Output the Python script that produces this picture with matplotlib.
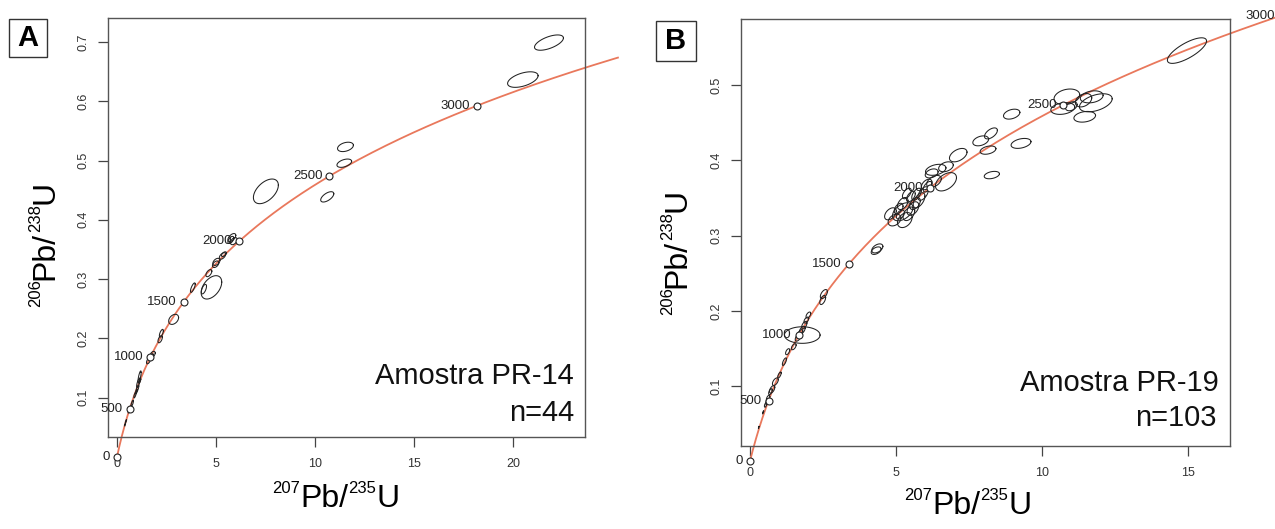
import numpy as np
import matplotlib
matplotlib.use("Agg")
import matplotlib.pyplot as plt
from matplotlib.patches import Rectangle

plt.rcParams['font.family'] = ['Liberation Sans', 'DejaVu Sans']

# decay constants (1/Ma) for the concordia
L235 = 9.8485e-4
L238 = 1.55125e-4

# -----------------------------------
# sample PR-14: x, half-width x, y, half-width y, rho
# -----------------------------------
a_x = [21.82, 20.50, 11.54, 11.48, 10.62, 7.52, 4.77, 5.80, 5.90, 5.33, 5.02, 4.98,
       4.64, 4.39, 3.83, 2.86, 2.24, 2.18, 1.80, 1.59, 1.14, 1.08, 1.03, 0.91, 0.77,
       0.68, 0.62, 0.45, 0.40, 1.15, 0.98, 5.40, 1.75, 5.75]
a_ex = [0.73, 0.77, 0.40, 0.37, 0.33, 0.63, 0.52, 0.20, 0.17, 0.16, 0.18, 0.16,
        0.15, 0.13, 0.12, 0.25, 0.10, 0.11, 0.13, 0.10, 0.08, 0.09, 0.07, 0.06, 0.06,
        0.08, 0.06, 0.03, 0.02, 0.05, 0.05, 0.12, 0.09, 0.15]
a_y = [0.699, 0.6366, 0.523, 0.4955, 0.4387, 0.448, 0.286, 0.370, 0.364, 0.339, 0.329, 0.325,
       0.310, 0.283, 0.2855, 0.232, 0.2086, 0.1985, 0.173, 0.162, 0.135, 0.125, 0.115, 0.1045, 0.0905,
       0.082, 0.078, 0.060, 0.054, 0.128, 0.110, 0.342, 0.170, 0.366]
a_ey = [0.0129, 0.0131, 0.0079, 0.0070, 0.0087, 0.0208, 0.0197, 0.0068, 0.0060, 0.0055, 0.0060, 0.0055,
        0.0060, 0.0080, 0.0080, 0.0085, 0.0065, 0.0060, 0.0050, 0.0050, 0.0100, 0.0080, 0.0060, 0.0050, 0.0050,
        0.0045, 0.0040, 0.0025, 0.0020, 0.0040, 0.0040, 0.0040, 0.0040, 0.0060]
a_rho = [0.6, 0.5, 0.35, 0.45, 0.6, 0.5, 0.45, 0.55, 0.45, 0.55, 0.45, 0.45,
         0.55, 0.6, 0.75, 0.35, 0.65, 0.55, 0.45, 0.55, 0.75, 0.75, 0.75, 0.75, 0.75,
         0.55, 0.55, 0.8, 0.8, 0.75, 0.75, 0.55, 0.55, 0.55]

# -----------------------------------
# sample PR-19
# -----------------------------------
b_x = [14.96, 10.85, 10.71, 11.00, 11.42, 11.84, 11.70, 11.46, 8.96, 8.25, 7.90, 8.15,
       9.28, 8.28, 7.13, 6.71, 6.71, 6.36, 6.22, 6.05, 6.30,
       5.23, 4.95, 5.30, 5.58, 5.79, 5.93, 6.08, 5.51, 5.37, 5.09, 4.81, 5.23, 5.65, 5.44, 5.15, 5.70,
       4.36, 4.32, 2.53, 2.49, 1.79, 2.00, 1.93, 1.86, 1.79, 1.72, 1.65, 1.50, 1.29, 1.18,
       1.01, 0.87, 0.76, 0.70, 0.62, 0.59, 0.535, 0.45, 0.30]
b_ex = [0.67, 0.44, 0.41, 0.20, 0.28, 0.56, 0.39, 0.37, 0.28, 0.22, 0.27, 0.27,
        0.34, 0.26, 0.30, 0.36, 0.25, 0.35, 0.22, 0.18, 0.25,
        0.35, 0.22, 0.25, 0.20, 0.20, 0.18, 0.15, 0.15, 0.15, 0.15, 0.20, 0.18, 0.18, 0.20, 0.14, 0.16,
        0.19, 0.17, 0.12, 0.10, 0.61, 0.08, 0.08, 0.09, 0.10, 0.09, 0.10, 0.08, 0.07, 0.07,
        0.06, 0.10, 0.09, 0.06, 0.06, 0.05, 0.04, 0.02, 0.01]
b_y = [0.546, 0.4845, 0.469, 0.472, 0.480, 0.4766, 0.4845, 0.458, 0.4615, 0.4359, 0.426, 0.4137,
       0.4226, 0.3805, 0.407, 0.3716, 0.3915, 0.3875, 0.3827, 0.368, 0.372,
       0.3317, 0.3207, 0.3207, 0.336, 0.347, 0.356, 0.365, 0.352, 0.356, 0.336, 0.329, 0.3427, 0.3427, 0.329, 0.328, 0.355,
       0.283, 0.280, 0.2223, 0.2144, 0.1678, 0.1944, 0.1877, 0.181, 0.1744, 0.170, 0.1647, 0.1523, 0.1457, 0.1324,
       0.1147, 0.1058, 0.0956, 0.0925, 0.0837, 0.0793, 0.0749, 0.065, 0.045]
b_ey = [0.017, 0.0104, 0.0078, 0.006, 0.0089, 0.012, 0.008, 0.0071, 0.0066, 0.0073, 0.0066, 0.0055,
        0.0066, 0.0049, 0.0089, 0.0122, 0.0066, 0.0073, 0.006, 0.007, 0.008,
        0.012, 0.0078, 0.010, 0.009, 0.010, 0.009, 0.007, 0.007, 0.007, 0.007, 0.008, 0.008, 0.008, 0.009, 0.006, 0.008,
        0.006, 0.005, 0.006, 0.006, 0.011, 0.004, 0.004, 0.005, 0.005, 0.005, 0.005, 0.004, 0.004, 0.005,
        0.004, 0.005, 0.005, 0.004, 0.004, 0.004, 0.003, 0.002, 0.0015]
b_rho = [0.75, 0.25, 0.25, 0.35, 0.35, 0.45, 0.25, 0.25, 0.35, 0.55, 0.35, 0.35,
         0.35, 0.35, 0.45, 0.45, 0.35, 0.35, 0.35, 0.45, 0.45,
         0.45, 0.35, 0.35, 0.45, 0.55, 0.55, 0.55, 0.55, 0.55, 0.45, 0.45, 0.45, 0.45, 0.45, 0.45, 0.55,
         0.45, 0.45, 0.55, 0.55, 0.0, 0.55, 0.55, 0.55, 0.55, 0.55, 0.55, 0.55, 0.55, 0.7,
         0.7, 0.55, 0.55, 0.55, 0.55, 0.55, 0.55, 0.8, 0.8]

ages_a = [0, 500, 1000, 1500, 2000, 2500, 3000]
ages_b = [0, 500, 1000, 1500, 2000, 2500, 3000]

curve_col = "#E9785C"
grey = "#444444"
W, H = 1275, 529


def concordia(t):
    return np.exp(L235 * t) - 1, np.exp(L238 * t) - 1


def draw_ellipses(ax, xs, exs, ys, eys, rhos):
    th = np.linspace(0, 2 * np.pi, 80)
    u = np.vstack([np.cos(th), np.sin(th)])
    for x, ex, y, ey, r in zip(xs, exs, ys, eys, rhos):
        cov = np.array([[ex**2, r * ex * ey], [r * ex * ey, ey**2]])
        L = np.linalg.cholesky(cov + np.eye(2) * 1e-14)
        p = L @ u
        ax.plot(x + p[0], y + p[1], color="#222222", lw=0.75, zorder=3)


def draw_panel(ax, xs, exs, ys, eys, rhos, ages, tmax, xlim, ylim, xticks, yticks):
    t = np.linspace(0, tmax, 400)
    cx, cy = concordia(t)
    ax.plot(cx, cy, color=curve_col, lw=1.3, clip_on=False, zorder=2)
    ax_x, ax_y = concordia(np.array(ages, dtype=float))
    ax.plot(ax_x, ax_y, 'o', ms=5, mfc='white', mec="#222222", mew=0.8,
            clip_on=False, zorder=4)
    for age, px, py in zip(ages, ax_x, ax_y):
        ax.annotate(str(age), (px, py), xytext=(-5, 0), textcoords='offset points',
                    ha='right', va='center', fontsize=9.5, color="#222222",
                    annotation_clip=False)
    draw_ellipses(ax, xs, exs, ys, eys, rhos)
    ax.set_xlim(*xlim)
    ax.set_ylim(*ylim)
    ax.set_xticks(xticks)
    ax.set_yticks(yticks)
    ax.set_xticklabels([f"{v:g}" for v in xticks])
    ax.set_yticklabels([f"{v:g}" for v in yticks], rotation=90, va='center')
    ax.tick_params(axis='both', length=7, width=0.9, color=grey,
                   labelcolor="#333333", labelsize=9)
    ax.tick_params(axis='x', pad=8)
    ax.tick_params(axis='y', pad=6)
    for s in ax.spines.values():
        s.set_color("#555555")
        s.set_linewidth(1.0)


def isotope_label(fig, cx, cy, pieces, vertical=False):
    # pieces: (text, size, superscript?) laid end to end, centred on (cx, cy) in pixels
    r = fig.canvas.get_renderer()
    widths = []
    for s, size, sup in pieces:
        t = fig.text(0, 0, s, fontsize=size)
        widths.append(t.get_window_extent(r).width)
        t.remove()
    total = sum(widths)
    main = max(p[1] for p in pieces) * 100 / 72
    pos = -total / 2
    for (s, size, sup), w in zip(pieces, widths):
        lift = 0.42 * main if sup else 0
        base = -0.33 * main
        if vertical:
            px, py, rot = cx - (base + lift), cy + pos, 90
        else:
            px, py, rot = cx + pos, cy + base + lift, 0
        fig.text(px / W, py / H, s, fontsize=size, rotation=rot,
                 rotation_mode='anchor', ha='left', va='baseline')
        pos += w


fig = plt.figure(figsize=(W / 100, H / 100), dpi=100)

ax_a = fig.add_axes([108 / W, 1 - 437.3 / H, (585 - 108) / W, (437.3 - 17.7) / H])
ax_b = fig.add_axes([740.6 / W, 1 - 445.7 / H, (1229.9 - 740.6) / W, (445.7 - 19) / H])

draw_panel(ax_a, a_x, a_ex, a_y, a_ey, a_rho, ages_a, 3320,
           (-0.455, 23.64), (0.033, 0.741), [0, 5, 10, 15, 20],
           [0.1, 0.2, 0.3, 0.4, 0.5, 0.6, 0.7])
draw_panel(ax_b, b_x, b_ex, b_y, b_ey, b_rho, ages_b, 3000,
           (-0.32, 16.43), (0.0207, 0.588), [0, 5, 10, 15],
           [0.1, 0.2, 0.3, 0.4, 0.5])

# sample names
ax_a.text(0.977, 0.127, "Amostra PR-14", transform=ax_a.transAxes,
          ha='right', va='baseline', fontsize=21, color="#111111")
ax_a.text(0.978, 0.039, "n=44", transform=ax_a.transAxes,
          ha='right', va='baseline', fontsize=21, color="#111111")
ax_b.text(0.977, 0.129, "Amostra PR-19", transform=ax_b.transAxes,
          ha='right', va='baseline', fontsize=21, color="#111111")
ax_b.text(0.973, 0.047, "n=103", transform=ax_b.transAxes,
          ha='right', va='baseline', fontsize=21, color="#111111")

# axis titles
fig.canvas.draw()
ylab = [("206", 12, True), ("Pb/", 23, False), ("238", 12, True), ("U", 23, False)]
xlab = [("207", 12, True), ("Pb/", 23, False), ("235", 12, True), ("U", 23, False)]
isotope_label(fig, 43, H - 244, ylab, vertical=True)
isotope_label(fig, 675, H - 252, ylab, vertical=True)
isotope_label(fig, 336, H - 496, xlab)
isotope_label(fig, 968, H - 503, xlab)

# panel letters
for (x0, y0, w, h, lab) in [(9, 19, 38, 38, "A"), (655.6, 20.7, 40, 40, "B")]:
    fig.patches.append(Rectangle((x0 / W, 1 - (y0 + h) / H), w / W, h / H,
                                 transform=fig.transFigure, fc='white',
                                 ec="#333333", lw=1.0))
    fig.text((x0 + w / 2) / W, 1 - (y0 + h / 2) / H, lab, ha='center', va='center',
             fontsize=21, fontweight='bold')

fig.savefig("out.png", dpi=100)
